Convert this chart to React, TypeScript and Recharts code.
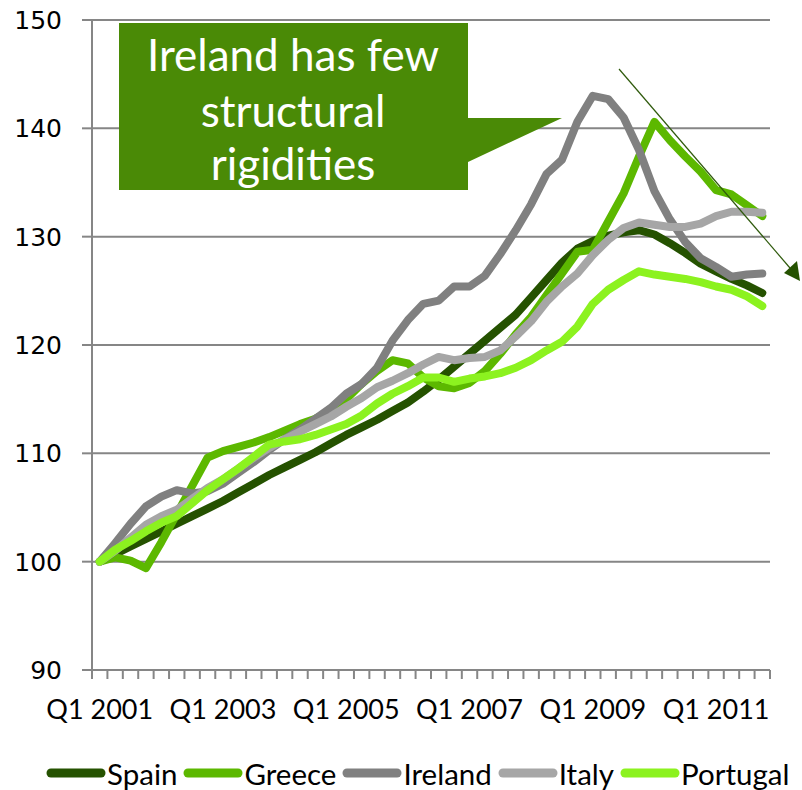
import { LineChart, Line, XAxis, YAxis, CartesianGrid, Legend } from 'recharts';

const years = [2001, 2002, 2003, 2004, 2005, 2006, 2007, 2008, 2009, 2010, 2011];
const quarters = years.flatMap((y) => ['Q1', 'Q2', 'Q3', 'Q4'].map((q) => `${q} ${y}`));

const spain = [
  100, 100.7, 101.4, 102.1, 102.8, 103.5, 104.2, 104.9, 105.6, 106.4, 107.2, 108.0, 108.7, 109.4, 110.1,
  110.9, 111.7, 112.4, 113.1, 113.9, 114.7, 115.7, 116.8, 118.0, 119.2, 120.4, 121.6, 122.8, 124.4, 126.0,
  127.6, 128.9, 129.6, 130.1, 130.4, 130.6, 130.2, 129.4, 128.5, 127.5, 126.8, 126.1, 125.5, 124.8,
];
const greece = [
  100, 100.4, 100.1, 99.4, 101.8, 104.4, 107.0, 109.6, 110.2, 110.6, 111.0, 111.5, 112.1, 112.7, 113.2,
  113.9, 115.0, 116.4, 117.6, 118.6, 118.3, 117.0, 116.2, 116.0, 116.5, 117.6, 119.2, 121.0, 122.6, 124.6,
  126.6, 128.6, 128.8, 131.4, 134.0, 137.4, 140.6, 138.9, 137.4, 136.0, 134.3, 133.9, 132.9, 131.9,
];
const ireland = [
  100, 101.7, 103.5, 105.1, 106.0, 106.6, 106.3, 106.5, 107.2, 108.2, 109.2, 110.3, 111.3, 112.2, 113.2,
  114.2, 115.5, 116.4, 117.9, 120.4, 122.3, 123.8, 124.1, 125.4, 125.4, 126.4, 128.4, 130.6, 133.0, 135.8,
  137.1, 140.6, 143.0, 142.7, 141.0, 138.0, 134.2, 131.6, 129.5, 128.0, 127.2, 126.3, 126.5, 126.6,
];
const italy = [
  100, 101.0, 102.2, 103.4, 104.2, 104.8, 105.8, 106.8, 107.6, 108.6, 109.6, 110.5, 111.3, 112.0, 112.7,
  113.4, 114.3, 115.1, 116.1, 116.7, 117.4, 118.2, 118.9, 118.6, 118.8, 118.9, 119.5, 120.8, 122.2, 124.0,
  125.4, 126.6, 128.3, 129.7, 130.8, 131.3, 131.1, 130.9, 130.9, 131.2, 131.9, 132.3, 132.3, 132.2,
];
const portugal = [
  100, 101.1, 101.9, 102.8, 103.6, 104.2, 105.4, 106.6, 107.6, 108.6, 109.7, 110.8, 111.1, 111.3, 111.7,
  112.2, 112.7, 113.5, 114.6, 115.5, 116.2, 117.0, 117.0, 116.6, 116.9, 117.1, 117.4, 117.9, 118.6, 119.5,
  120.3, 121.7, 123.8, 125.1, 126.0, 126.8, 126.5, 126.3, 126.1, 125.8, 125.4, 125.1, 124.5, 123.6,
];

const xLabels = ['Q1 2001', 'Q1 2003', 'Q1 2005', 'Q1 2007', 'Q1 2009', 'Q1 2011'];
const yTicks = [90, 100, 110, 120, 130, 140, 150];

const series = [
  { key: 'spain', name: 'Spain', color: '#255200' },
  { key: 'greece', name: 'Greece', color: '#5cb800' },
  { key: 'ireland', name: 'Ireland', color: '#808080' },
  { key: 'italy', name: 'Italy', color: '#a6a6a6' },
  { key: 'portugal', name: 'Portugal', color: '#8cf21f' },
];

const rows = quarters.map((q, i) => ({
  idx: i,
  quarter: q,
  spain: spain[i],
  greece: greece[i],
  ireland: ireland[i],
  italy: italy[i],
  portugal: portugal[i],
}));

// category boundaries, so ticks sit between quarters like the original
const boundaryTicks = [...quarters.map((_, i) => i - 0.5), quarters.length - 0.5];

const PLOT_W = 802 - 92 - 32;
const BAND = PLOT_W / quarters.length;
const AXIS_GREY = '#868686';
const CALIBRI = 'Lato, "Open Sans", sans-serif';

const XTick = ({ x, y, payload }: { x: number; y: number; payload: { value: number } }) => {
  const i = Math.round(payload.value + 0.5);
  const label = quarters[i];
  if (!label || !xLabels.includes(label)) return null;
  return (
    <text x={x + BAND / 2} y={y + 38} textAnchor="middle" fontSize={27} fontFamily={CALIBRI} fill="#000">
      {label}
    </text>
  );
};

const renderLegend = () => (
  <div
    style={{
      height: 40,
      display: 'flex',
      alignItems: 'center',
      justifyContent: 'flex-start',
      paddingLeft: 46,
      fontFamily: CALIBRI,
      fontSize: 29.5,
      color: '#000',
      position: 'relative',
      top: 3,
      whiteSpace: 'nowrap',
    }}
  >
    {series.map((s) => (
      <div key={s.key} style={{ display: 'flex', alignItems: 'center', marginRight: 6 }}>
        <svg width={60} height={10}>
          <line x1={5} y1={5} x2={55} y2={5} stroke={s.color} strokeWidth={9} strokeLinecap="round" />
        </svg>
        <span style={{ marginLeft: 1 }}>{s.name}</span>
      </div>
    ))}
  </div>
);

export default function App() {
  return (
    <div style={{ position: 'absolute', left: 0, top: 0, width: 802, height: 790, background: '#fff' }}>
      <LineChart width={802} height={790} data={rows} margin={{ top: 20, right: 32, bottom: 0, left: 0 }}>
        <CartesianGrid horizontal vertical={false} stroke={AXIS_GREY} strokeWidth={2} />
        <XAxis
          dataKey="idx"
          type="number"
          domain={[-0.5, quarters.length - 0.5]}
          ticks={boundaryTicks}
          interval={0}
          height={80}
          tickSize={9}
          stroke={AXIS_GREY}
          strokeWidth={2}
          tick={XTick}
        />
        <YAxis
          type="number"
          domain={[90, 150]}
          ticks={yTicks}
          interval={0}
          width={92}
          tickSize={10}
          tickMargin={20}
          stroke={AXIS_GREY}
          strokeWidth={2}
          tick={{ fill: '#000', fontSize: 25, fontFamily: '"DejaVu Sans", Verdana, sans-serif' }}
        />
        {series.map((s) => (
          <Line
            key={s.key}
            type="linear"
            dataKey={s.key}
            name={s.name}
            stroke={s.color}
            strokeWidth={8}
            strokeLinecap="round"
            strokeLinejoin="round"
            dot={false}
            isAnimationActive={false}
          />
        ))}
        <Legend verticalAlign="bottom" content={renderLegend} />
      </LineChart>

      {/* callout and trend arrow drawn on top of the plot */}
      <svg
        width={802}
        height={790}
        style={{ position: 'absolute', left: 0, top: 0, pointerEvents: 'none' }}
      >
        <path d="M119,23 H468 V118 H562 L468,162 V190 H119 Z" fill="#4a8a06" />
        <g fill="#fff" fontFamily={CALIBRI} fontSize={44} textAnchor="middle">
          <text x={293} y={71}>Ireland has few</text>
          <text x={293} y={127}>structural</text>
          <text x={293} y={180}>rigidities</text>
        </g>
        <line x1={619} y1={69} x2={790} y2={268} stroke="#2f5a0c" strokeWidth={1.2} />
        <polygon points="800,281 784,273 797,261" fill="#255200" />
      </svg>
    </div>
  );
}
